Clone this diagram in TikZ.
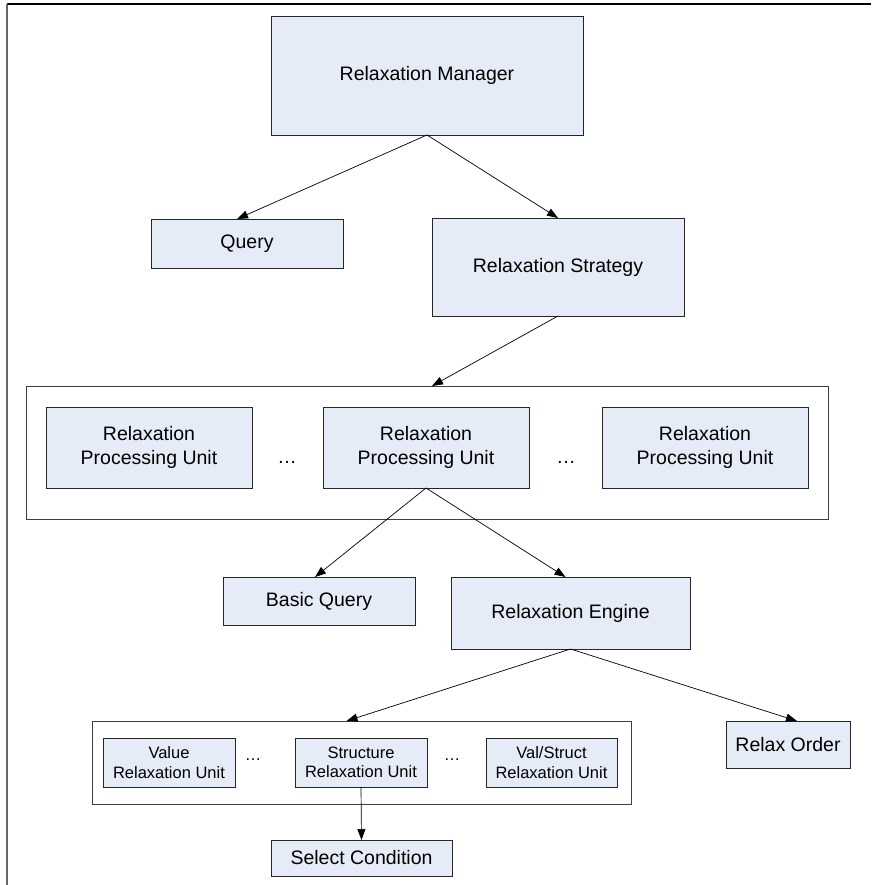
\documentclass[tikz,border=0pt]{standalone}
\usepackage{fontspec}
\setmainfont{Liberation Sans}
\usetikzlibrary{arrows.meta}
\definecolor{boxblue}{RGB}{230,236,247}

\begin{document}
\begin{tikzpicture}[x=1pt,y=-1pt,
  box/.style={draw=black!85, fill=boxblue, line width=0.9pt, inner sep=0pt, outer sep=0pt,
    align=center, font=\fontsize{19.5}{23.5}\selectfont},
  smallbox/.style={box, font=\fontsize{16.5}{19.5}\selectfont},
  group/.style={draw=black!75, fill=white, line width=0.9pt, inner sep=0pt, outer sep=0pt},
  gap/.style={inner sep=0pt, anchor=base},
  link/.style={-{Triangle[length=11pt,width=8pt]}, line width=0.7pt}]
\useasboundingbox (0,0) rectangle (871,885);
\draw [line width=1.5pt] (7,4) -- (871,4);
\draw [black!60, line width=1.8pt] (7,4) -- (7,885);

\coordinate (M) at (427,75.5);
\coordinate (Q) at (247,243.5);
\coordinate (S) at (558,267);
\coordinate (G) at (427,452.5);
\coordinate (B) at (319,601);
\coordinate (E) at (570.5,613);
\coordinate (H) at (361.5,762.5);
\coordinate (O) at (788,744.5);
\coordinate (C) at (361.5,858);

% top level
\node [box, minimum width=312, minimum height=119] (manager) at (M) {Relaxation Manager};
\node [box, minimum width=192, minimum height=49] (query) at (Q) {Query};
\node [box, minimum width=252, minimum height=98] (strategy) at (S) {Relaxation Strategy};

% processing units
\node [group, minimum width=802, minimum height=133] (units) at (G) {};
\node [box, minimum width=206, minimum height=81] (rpuA) at (149,447.5) {Relaxation\\Processing Unit};
\node [box, minimum width=206, minimum height=81] (rpuB) at (426,447.5) {Relaxation\\Processing Unit};
\node [box, minimum width=206, minimum height=81] (rpuC) at (705,447.5) {Relaxation\\Processing Unit};
\node [gap, font=\fontsize{19.5}{23.5}\selectfont] (dotsA) at (287,463) {…};
\node [gap, font=\fontsize{19.5}{23.5}\selectfont] (dotsB) at (566,463) {…};

\node [box, minimum width=192, minimum height=48] (basic) at (B) {Basic Query};
\node [box, minimum width=239, minimum height=72] (engine) at (E) {Relaxation Engine};

% relaxation units
\node [group, minimum width=539, minimum height=83] (relax) at (H) {};
\node [smallbox, minimum width=132, minimum height=49] (value) at (169,762.5) {Value\\Relaxation Unit};
\node [smallbox, minimum width=132, minimum height=49] (struct) at (361,762.5) {Structure\\Relaxation Unit};
\node [smallbox, minimum width=131, minimum height=49] (valstruct) at (551.5,762.5) {Val/Struct\\Relaxation Unit};
\node [gap, font=\fontsize{16.5}{19.5}\selectfont] (dotsC) at (253,760) {…};
\node [gap, font=\fontsize{16.5}{19.5}\selectfont] (dotsD) at (452,760) {…};

\node [box, minimum width=124, minimum height=47] (order) at (O) {Relax Order};
\node [box, minimum width=181, minimum height=36] (select) at (C) {Select Condition};

\draw [link] (manager.south) -- ([xshift=-10pt]query.north);
\draw [link] (manager.south) -- (strategy.north);
\draw [link] (strategy.south) -- ([xshift=5pt]units.north);
\draw [link] (rpuB.south) -- ([xshift=-4pt]basic.north);
\draw [link] (rpuB.south) -- ([xshift=-5pt]engine.north);
\draw [link] (engine.south) -- ([xshift=-15pt]relax.north);
\draw [link] (engine.south) -- ([xshift=9pt]order.north);
\draw [link] (struct.south) -- (select.north);
\end{tikzpicture}
\end{document}
